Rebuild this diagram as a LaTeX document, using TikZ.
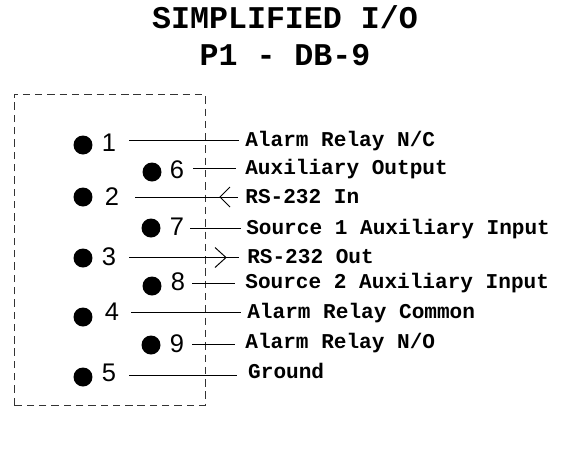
\documentclass[tikz,border=0pt]{standalone}
\usepackage{fontspec}
\setmainfont{Liberation Sans}
\newfontfamily\labelfont[Scale=1]{Liberation Mono}
\usetikzlibrary{calc,positioning}

\tikzset{
	titletext/.style={font=\labelfont\bfseries\fontsize{18}{20}\selectfont, inner sep=0pt},
	pinlabel/.style={font=\labelfont\bfseries\fontsize{12}{14}\selectfont, anchor=west, inner ysep=0pt, text height=8.2pt, text depth=1pt},
	pinnum/.style={font=\fontsize{14.5}{16}\selectfont, inner sep=0pt},
	pindot/.style={circle, fill=black, minimum size=0.38cm, inner sep=0pt},
	wire/.style={line width=0.55pt},
}

\begin{document}
\begin{tikzpicture}[x=0.02cm,y=-0.02cm]
		\useasboundingbox (0,0) rectangle (571,457);

		\node[titletext] (title1) at (285,17) {SIMPLIFIED I/O};
		\node[titletext] (title2) at (285,55.5) {P1 - DB-9};

		\draw[wire, dash pattern=on 4.2pt off 2.8pt, black!80] (14,405) -- (14,94) -- (205,94) -- (205,405) -- cycle;

		\node[pindot] (dot1) at (83,145) {};
		\node[pindot] (dot2) at (83,197) {};
		\node[pindot] (dot3) at (83,258) {};
		\node[pindot] (dot4) at (83,317) {};
		\node[pindot] (dot5) at (83,377) {};
		\node[pindot] (dot6) at (152,172) {};
		\node[pindot] (dot7) at (151,228) {};
		\node[pindot] (dot8) at (152,286) {};
		\node[pindot] (dot9) at (151,345) {};

		\node[pinnum] (num1) at (109,143) {1};
		\node[pinnum] (num2) at (112,197) {2};
		\node[pinnum] (num3) at (109,257) {3};
		\node[pinnum] (num4) at (112,312) {4};
		\node[pinnum] (num5) at (109,373) {5};
		\node[pinnum] (num6) at (177,170) {6};
		\node[pinnum] (num7) at (177,227) {7};
		\node[pinnum] (num8) at (178,282) {8};
		\node[pinnum] (num9) at (177,344) {9};

		\node[pinlabel, inner xsep=3.4pt] (sig1) at (239,140) {Alarm Relay N/C};
		\node[pinlabel, inner xsep=5.1pt] (sig6) at (236,168) {Auxiliary Output};
		\node[pinlabel, inner xsep=4pt] (sig2) at (238,197) {RS-232 In};
		\node[pinlabel, inner xsep=2.8pt] (sig7) at (241,228) {Source 1 Auxiliary Input};
		\node[pinlabel, inner xsep=4.5pt] (sig3) at (239,257) {RS-232 Out};
		\node[pinlabel, inner xsep=5.7pt] (sig8) at (235,282) {Source 2 Auxiliary Input};
		\node[pinlabel, inner xsep=3.4pt] (sig4) at (241,312) {Alarm Relay Common};
		\node[pinlabel, inner xsep=5.7pt] (sig9) at (235,342) {Alarm Relay N/O};
		\node[pinlabel, inner xsep=6.2pt] (sig5) at (237,372) {Ground};

		\coordinate (wire1) at (129,140);
		\coordinate (wire6) at (193,168.5);
		\coordinate (wire2) at (135,197);
		\coordinate (wire7) at (190,228);
		\coordinate (wire3) at (129,257.5);
		\coordinate (wire8) at (192,283);
		\coordinate (wire4) at (131,312);
		\coordinate (wire9) at (192,344);
		\coordinate (wire5) at (129,375);

		\draw[wire] (wire1) -- (sig1.west |- wire1);
		\draw[wire] (wire6) -- (sig6.west |- wire6);
		\draw[wire] (wire2) -- (sig2.west |- wire2);
		\draw[wire] (wire7) -- (sig7.west |- wire7);
		\draw[wire] (wire3) -- (sig3.west |- wire3);
		\draw[wire] (wire8) -- (sig8.west |- wire8);
		\draw[wire] (wire4) -- (sig4.west |- wire4);
		\draw[wire] (wire9) -- (sig9.west |- wire9);
		\draw[wire] (wire5) -- (sig5.west |- wire5);

		\coordinate (tip2) at (220,197);
		\coordinate (tip3) at (226,257.5);
		\draw[wire] (tip2) ++(10,-10) -- (tip2) -- ++(10,10);
		\draw[wire] (tip3) ++(-11,-10) -- (tip3) -- ++(-11,10);
	\end{tikzpicture}
\end{document}
